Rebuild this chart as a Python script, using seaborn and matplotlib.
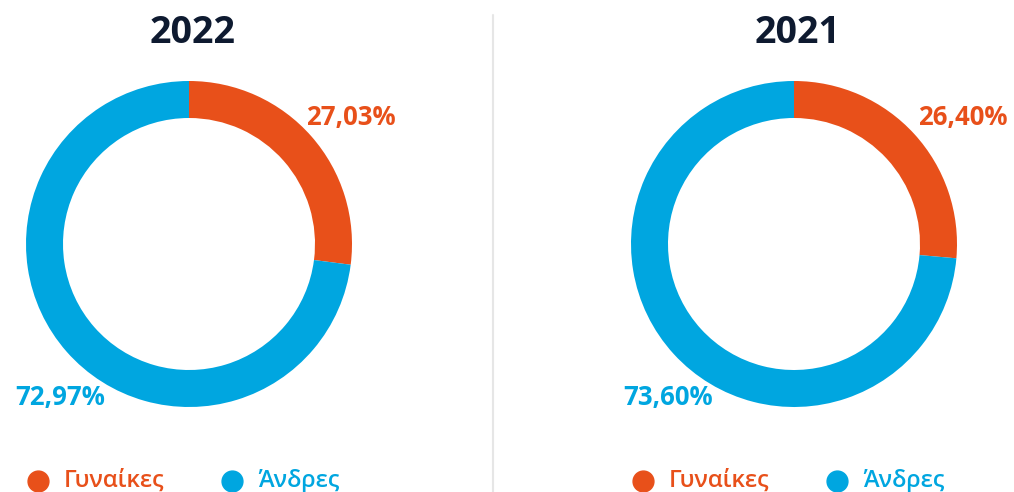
import matplotlib
matplotlib.use("Agg")
import matplotlib.pyplot as plt
from matplotlib.lines import Line2D
import seaborn as sns

years = ["2022", "2021"]
categories = ["Γυναίκες", "Άνδρες"]
women = [27.03, 26.40]
men = [72.97, 73.60]

sns.set_theme(style="white")
plt.rcParams['font.family'] = ['Open Sans', 'DejaVu Sans']

colors = sns.color_palette(["#E8501A", "#00A6E0"])
title_color = "#0E1A30"

W, H = 1014, 492
fig = plt.figure(figsize=(W / 100, H / 100), dpi=100)

centers_x = [189, 794]
cy = 244
R = 163
ring = 0.227

label_pos = [((351, 117), (60, 398)), ((963, 117), (668, 398))]

def fx(px):
    return px / W

def fy(py):
    return 1 - py / H

for i, yr in enumerate(years):
    cx = centers_x[i]
    ax = fig.add_axes([fx(cx - R), fy(cy + R), 2 * R / W, 2 * R / H])
    vals = [women[i], men[i]]
    ax.pie(vals, colors=colors, startangle=90, counterclock=False, radius=1,
           wedgeprops=dict(width=ring, edgecolor="none"))
    ax.set_xlim(-1, 1)
    ax.set_ylim(-1, 1)
    ax.set_aspect("equal")
    ax.axis("off")

    fig.text(fx(cx + 4), fy(33), yr, ha="center", va="center", fontsize=27,
             fontweight="bold", color=title_color)

    for j, v in enumerate(vals):
        (lx, ly) = label_pos[i][j]
        fig.text(fx(lx), fy(ly), f"{v:.2f}".replace(".", ",") + "%",
                 ha="center", va="center", fontsize=18.5, fontweight="bold",
                 color=colors[j])

    # legend
    leg_x = [cx - 151, cx + 43]
    for j, cat in enumerate(categories):
        mx = leg_x[j]
        fig.add_artist(Line2D([fx(mx)], [fy(481)], marker="o", markersize=15,
                              color=colors[j], linestyle="none",
                              transform=fig.transFigure))
        fig.text(fx(mx + 26), fy(481), cat, ha="left", va="center",
                 fontsize=17, fontweight="semibold", color=colors[j])

# separator
fig.add_artist(Line2D([fx(493), fx(493)], [fy(15), 0], color="#E6E6E6",
                      linewidth=1.5, transform=fig.transFigure))

fig.savefig("out.png", dpi=100)
